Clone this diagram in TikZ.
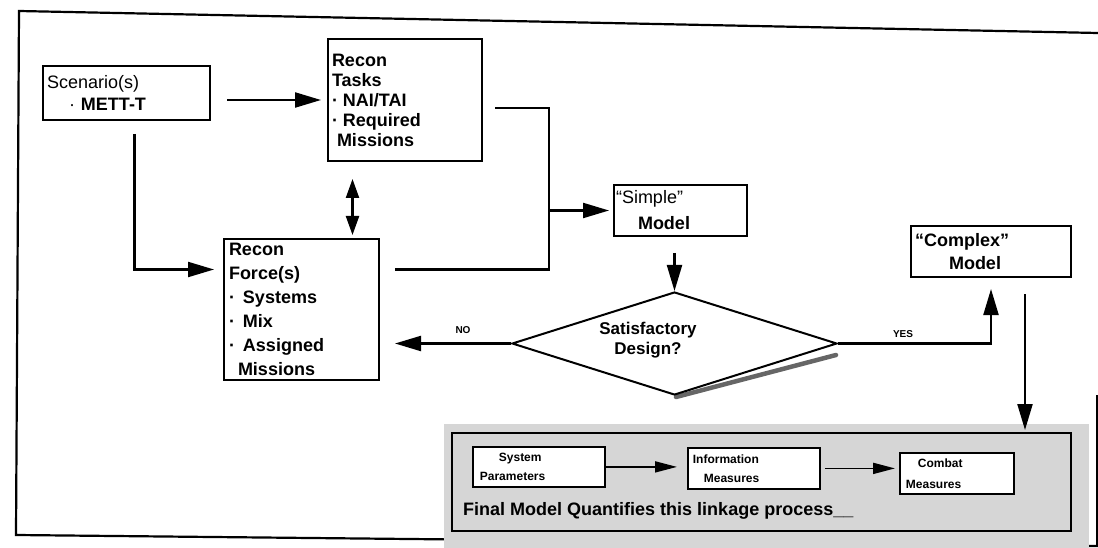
\documentclass[tikz,border=0pt]{standalone}
\usepackage{fontspec}
\setmainfont{Liberation Sans}
\usetikzlibrary{arrows.meta,shapes.geometric}
\newcommand\setfs[2]{\fontsize{#1}{#2}\selectfont}
\begin{document}
\begin{tikzpicture}[x=1pt,y=-1pt,
  box/.style={draw, line width=2pt, anchor=north west, inner ysep=0pt, align=left},
  pbox/.style={draw, line width=1.8pt, anchor=north west, inner sep=0pt, align=left, font=\setfs{12}{19}\bfseries},
  line/.style={line width=2.2pt},
  arr/.style={line width=2.2pt, -{Triangle[length=26pt,width=15pt]}},
  dbl/.style={line width=2.2pt, {Triangle[length=19pt,width=13pt]}-{Triangle[length=19pt,width=13pt]}},
  parr/.style={line width=1.8pt, -{Triangle[length=22pt,width=11pt]}},
  lbl/.style={font=\setfs{10}{12}\bfseries, inner sep=1pt}]
\useasboundingbox (0,0) rectangle (1098,548);
% outer frame
\draw[line width=2.2pt] (1098,33) -- (19,11) -- (16,535) -- (1098,546);
\draw[line width=2pt] (1097,395) -- (1097,546);
% shaded panel background
\fill[black!16] (444,424) rectangle (1089,548);
% boxes
\node[box, minimum width=167pt, minimum height=54pt, inner xsep=4pt, text width=159pt,
  font=\setfs{18}{22}] (scen) at (42,65)
  {Scenario(s)\\\hspace*{22pt}·\hspace{6pt}\bfseries METT-T};
\node[box, minimum width=154pt, minimum height=122pt, inner xsep=4pt, text width=146pt,
  font=\setfs{18}{20}\bfseries] (tasks) at (327,38)
  {Recon\\Tasks\\·\hspace{5pt}NAI/TAI\\·\hspace{5pt}Required\\\hspace*{5pt}Missions};
\node[box, minimum width=155pt, minimum height=141pt, inner xsep=5pt, text width=145pt,
  font=\setfs{18}{24}\bfseries] (force) at (223,238)
  {Recon\\Force(s)\\·\hspace{8pt}Systems\\·\hspace{8pt}Mix\\·\hspace{8pt}Assigned\\\hspace*{9pt}Missions};
\node[box, minimum width=133pt, minimum height=51pt, inner xsep=2pt, text width=129pt,
  font=\setfs{18}{26}] (simple) at (613,184)
  {``Simple''\\\hspace*{22pt}\textbf{Model}};
\node[box, minimum width=160pt, minimum height=51pt, inner xsep=4pt, text width=152pt,
  font=\setfs{18}{23}\bfseries] (complex) at (910,225)
  {``Complex''\\\hspace*{34pt}Model};
% decision diamond with shadow
\draw[line width=4.5pt, black!60, line cap=round] (676,397) -- (836,355);
\node[diamond, draw, line width=2pt, fill=white, minimum width=325pt, minimum height=103pt,
  inner sep=0pt, aspect=3.15] (dia) at (674.5,343.5) {};
\node[font=\setfs{17}{20}\bfseries, align=center] (dtext) at (648,340) {Satisfactory\\Design?};
% panel
\node[draw, line width=2.4pt, anchor=north west, minimum width=619pt, minimum height=98pt,
  inner sep=0pt] (panel) at (451,432) {};
\node[pbox, fill=white, minimum width=132pt, minimum height=40pt, text width=132pt] (sys) at (472,446)
  {\hspace*{26pt}System\\\hspace*{7pt}Parameters};
\node[pbox, fill=white, minimum width=132pt, minimum height=41pt, text width=132pt] (info) at (687,447)
  {\hspace*{5pt}Information\\\hspace*{16pt}Measures};
\node[pbox, fill=white, minimum width=114pt, minimum height=41pt, text width=114pt,
  font=\setfs{12}{21}\bfseries] (combat) at (899,452)
  {\hspace*{18pt}Combat\\\hspace*{6pt}Measures};
\node[anchor=west, inner sep=0pt, font=\setfs{18}{20}\bfseries] (final) at (463,511)
  {Final Model Quantifies this linkage process\_\_};
% connectors
\draw[arr, shorten <=16pt, shorten >=6pt] (scen.east |- tasks.west) -- (tasks.west);
\draw[arr, shorten <=13pt, shorten >=9pt] ([xshift=8pt]scen.south) |- ([yshift=40pt]force.west);
\coordinate (mx) at (352.5,0);
\draw[dbl, shorten <=17pt, shorten >=3pt] (tasks.south -| mx) -- (force.north -| mx);
\coordinate (jx) at ([xshift=169pt]force.east);
\draw[line, shorten <=12pt, shorten >=15pt] ([yshift=-8pt]tasks.east) -| ([yshift=40pt]jx) -- ([yshift=40pt]force.east);
\draw[arr, shorten >=4pt] (jx |- simple.west) -- (simple.west);
\draw[arr, shorten <=16pt] (simple.south -| dia.north) -- (dia.north);
\draw[arr, shorten >=15pt] (dia.west) -- (force.east |- dia.west);
\draw[arr, shorten >=11pt] (dia.east) -| (complex.south);
\draw[arr, shorten <=16pt, shorten >=2pt] ([xshift=34pt]complex.south) -- ([xshift=34pt]complex.south |- panel.north);
\draw[parr, shorten >=10pt] (sys.east) -- (sys.east -| info.west);
\draw[parr, shorten <=4pt, shorten >=4pt] (info.east) -- (info.east -| combat.west);
\node[lbl] (no) at (463,330) {NO};
\node[lbl] (yes) at (903,334) {YES};
\end{tikzpicture}
\end{document}
